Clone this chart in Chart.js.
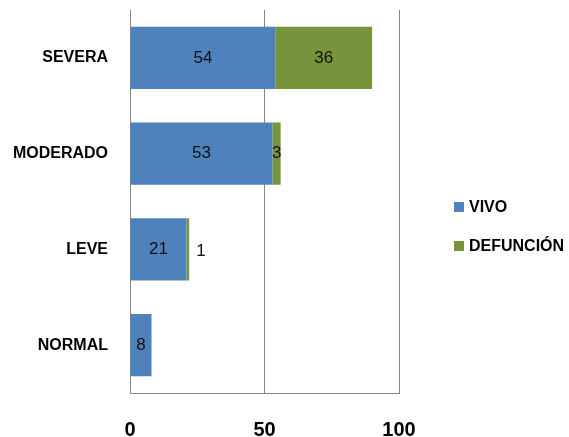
<!DOCTYPE html>
<html>
<head>
<meta charset="utf-8">
<script src="https://cdn.jsdelivr.net/npm/chart.js@4/dist/chart.umd.min.js"></script>
<style>
  body { margin: 0; background: #fff; }
  canvas { display: block; }
</style>
</head>
<body>
<canvas id="statsChart" width="569" height="437"></canvas>
<script>
// values
const categories = ['SEVERA', 'MODERADO', 'LEVE', 'NORMAL'];
const vivo = [54, 53, 21, 8];
const defuncion = [36, 3, 1, 0];
const seriesNames = ['VIVO', 'DEFUNCIÓN'];
const xTicks = [0, 50, 100];

const BLUE = '#4F81BD';
const GREEN = '#77933C';
const GRID = '#868686';
const FONT = '"Liberation Sans", Arial, sans-serif';

// value labels inside the segments, pushed outside when the segment is too thin
const barLabels = {
    id: 'barLabels',
    afterDatasetsDraw(chart) {
        const ctx = chart.ctx;
        ctx.save();
        ctx.font = '17px ' + FONT;
        ctx.fillStyle = '#111';
        ctx.textBaseline = 'middle';
        chart.data.datasets.forEach((ds, i) => {
            const meta = chart.getDatasetMeta(i);
            meta.data.forEach((bar, j) => {
                const v = ds.data[j];
                if (!v) return;
                const w = Math.abs(bar.x - bar.base);
                if (w < 4) {
                    ctx.textAlign = 'left';
                    ctx.fillText(String(v), bar.x + 7, bar.y + 2);
                } else {
                    ctx.textAlign = 'center';
                    ctx.fillText(String(v), (bar.x + bar.base) / 2, bar.y);
                }
            });
        });
        ctx.restore();
    }
};

// legend at the right, as in the reference
const sideLegend = {
    id: 'sideLegend',
    afterDraw(chart) {
        const ctx = chart.ctx;
        const x = chart.chartArea.right + 55;
        const rows = [207, 246];
        ctx.save();
        ctx.font = 'bold 16px ' + FONT;
        ctx.textAlign = 'left';
        ctx.textBaseline = 'middle';
        chart.data.datasets.forEach((ds, i) => {
            ctx.fillStyle = ds.backgroundColor;
            ctx.fillRect(x, rows[i] - 5, 10, 10);
            ctx.fillStyle = '#000';
            ctx.fillText(ds.label, x + 15, rows[i] + 1);
        });
        ctx.restore();
    }
};

let context = document.getElementById('statsChart');
let chart = new Chart(context, {
    type: 'bar',
    data: {
        labels: categories,
        datasets: [
            { label: seriesNames[0], data: vivo, backgroundColor: BLUE },
            { label: seriesNames[1], data: defuncion, backgroundColor: GREEN }
        ]
    },
    options: {
        indexAxis: 'y',
        responsive: false,
        animation: false,
        layout: { padding: { top: 10, right: 170, left: 0, bottom: 0 } },
        datasets: { bar: { categoryPercentage: 0.65, barPercentage: 1.0 } },
        plugins: {
            legend: { display: false },
            tooltip: { enabled: false }
        },
        scales: {
            x: {
                stacked: true,
                min: 0,
                max: 100,
                afterBuildTicks: scale => { scale.ticks = xTicks.map(v => ({ value: v })); },
                afterFit: scale => {
                    scale.height = 44;
                    scale.paddingLeft = 0;
                    scale.paddingRight = 0;
                },
                grid: { color: GRID, drawTicks: false },
                border: { color: GRID },
                ticks: {
                    padding: 25,
                    color: '#000',
                    font: { family: FONT, size: 20, weight: 'bold' }
                }
            },
            y: {
                stacked: true,
                afterFit: scale => {
                    scale.width = 130;
                    scale.paddingTop = 0;
                    scale.paddingBottom = 0;
                },
                grid: { display: false, drawTicks: false },
                border: { display: true, color: GRID },
                ticks: {
                    padding: 22,
                    color: '#000',
                    font: { family: FONT, size: 16, weight: 'bold' }
                }
            }
        }
    },
    plugins: [barLabels, sideLegend]
});
</script>
</body>
</html>
